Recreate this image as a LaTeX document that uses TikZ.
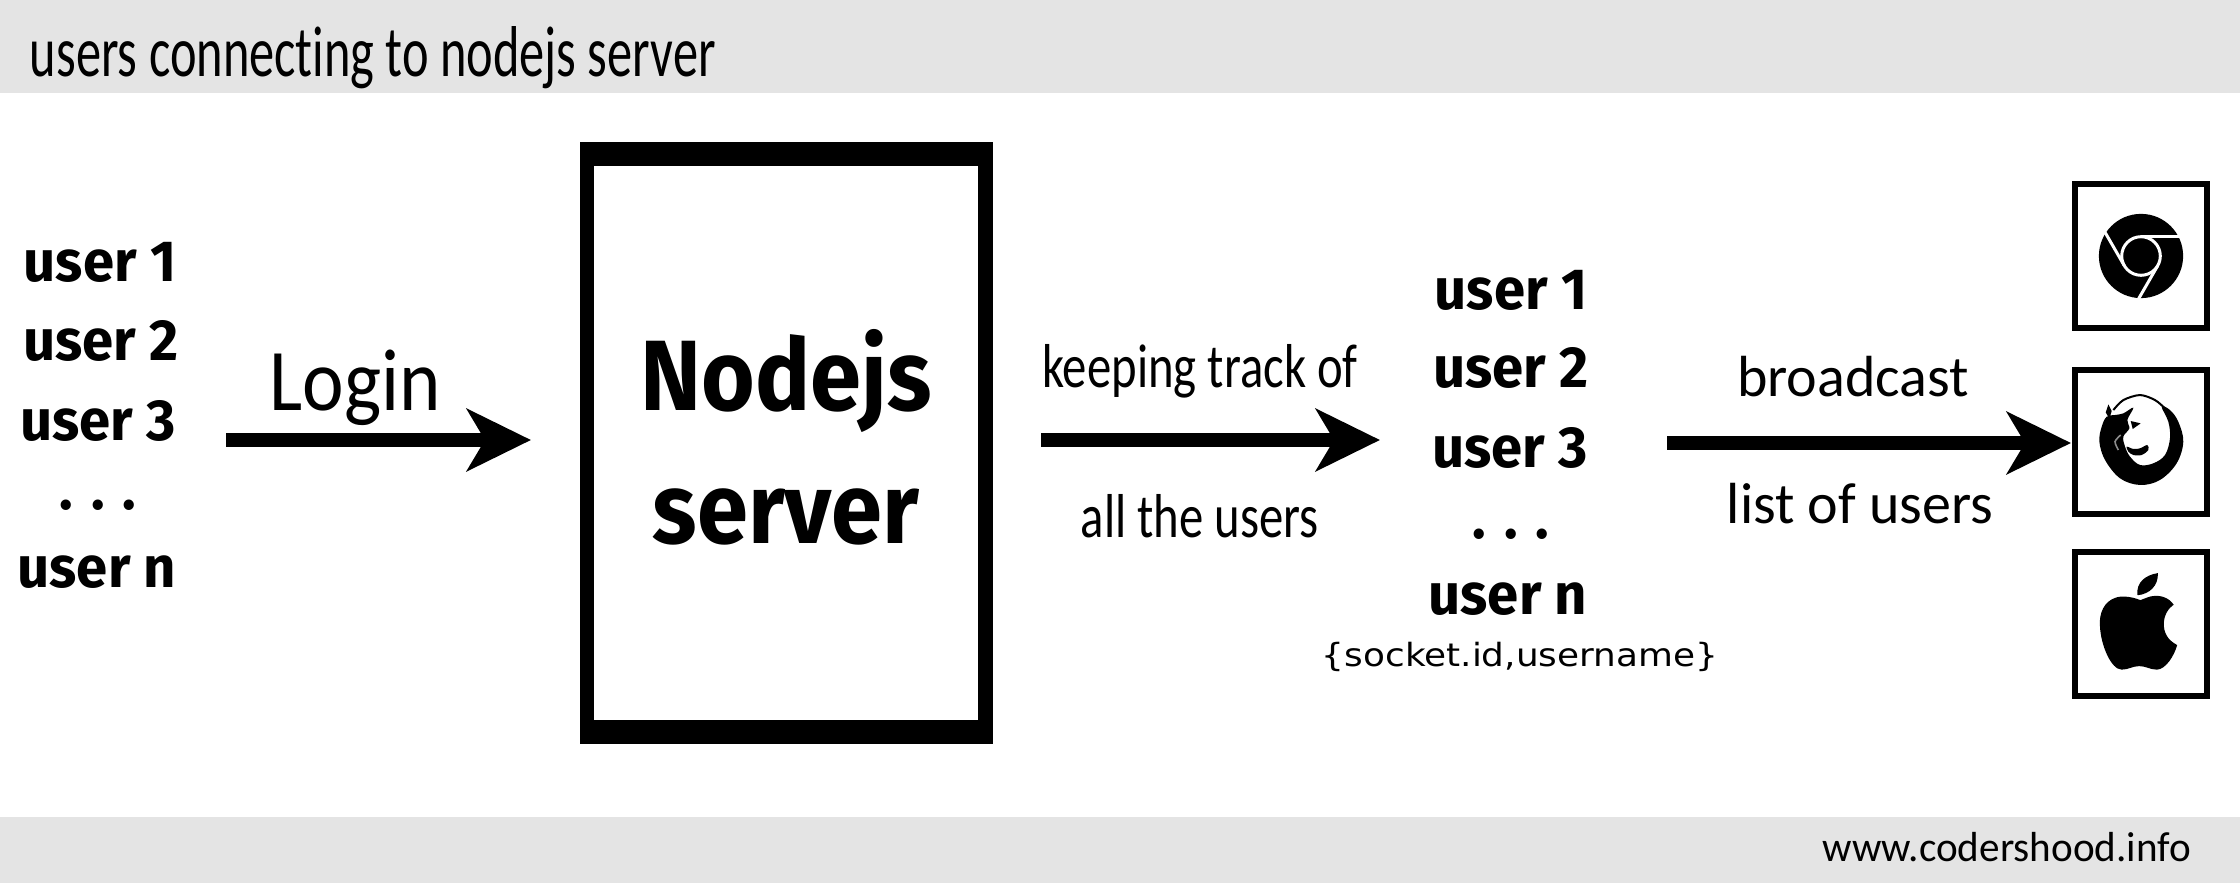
\documentclass[tikz,border=0pt]{standalone}
\usepackage{fontspec}
\setmainfont[Ligatures=NoCommon]{Carlito}
\newfontfamily\titleface[FakeStretch=0.70,Ligatures=NoCommon]{Carlito}
\newfontfamily\trackface[FakeStretch=0.786,Ligatures=NoCommon]{Carlito}
\newfontfamily\loginface[FakeStretch=0.895,Ligatures=NoCommon]{Carlito}
\newfontfamily\siteface[FakeStretch=0.98,Ligatures=NoCommon]{Carlito}
\newfontfamily\heavyfont[FakeStretch=0.92]{Fira Sans}
\newfontfamily\userface[FakeStretch=0.97]{Fira Sans}
\newfontfamily\wideface[FakeStretch=1.12]{DejaVu Sans}
\usetikzlibrary{arrows.meta}
\definecolor{bandgray}{HTML}{E4E4E4}

\begin{document}
\begin{tikzpicture}[x=0.5pt, y=-0.5pt,
    every node/.append style={inner sep=0pt, outer sep=0pt},
    bigarrow/.style={-{Stealth[length=32pt, width=31pt, inset=9pt]}, line width=7pt},
    lighttext/.style={anchor=base, font=\fontsize{29}{32}\selectfont},
    tracktext/.style={anchor=base, font=\trackface\fontsize{31}{34}\selectfont},
    usertext/.style={anchor=base, font=\userface\bfseries\fontsize{29}{32}\selectfont},
    servertext/.style={anchor=base, font=\heavyfont\bfseries\fontsize{50}{54}\selectfont},
    iconbox/.style={draw, line width=3pt, minimum width=66pt, minimum height=72pt}]
    \useasboundingbox (0,0) rectangle (2240,883);
    \fill[white] (0,0) rectangle (2240,883);
    \fill[bandgray] (0,0) rectangle (2240,93);
    \fill[bandgray] (0,817) rectangle (2240,883);
    % titles in the two bands
    \node (title) [anchor=base west, font=\titleface\fontsize{36}{40}\selectfont] at (30,77) {users connecting to nodejs server};
    \node (site) [anchor=base east, font=\siteface\fontsize{21}{24}\selectfont] at (2191,861) {www.codershood.info};
    % the users who log in
    \node (left1) [usertext] at (100,281) {user 1};
    \node (left2) [usertext] at (101,360) {user 2};
    \node (left3) [usertext] at (98,440) {user 3};
    \node (left4) [usertext] at (98,509) {. . .};
    \node (left5) [usertext] at (97,587) {user n};
    % server box
    \node (serverframe) [fill=black, minimum width=206.5pt, minimum height=300.5pt] at (786,443) {};
    \node (server) [fill=white, minimum width=192pt, minimum height=277pt] at (786,443) {};
    \node (nodejs) [servertext] at (786,410) {Nodejs};
    \node (serverword) [servertext] at (786,543) {server};
    % the list that is kept
    \node (right1) [usertext] at (1511,309) {user 1};
    \node (right2) [usertext] at (1511,387) {user 2};
    \node (right3) [usertext] at (1510,467) {user 3};
    \node (right4) [usertext] at (1511,538) {. . .};
    \node (right5) [usertext] at (1508,614) {user n};
    \node (socket) [anchor=base, font=\wideface\fontsize{16}{18}\selectfont] at (1520,666) {\{socket.id,username\}};
    % browsers
    \node (chrome) [iconbox] at (2141,256) {};
    \node (firefox) [iconbox] at (2141,442) {};
    \node (apple) [iconbox] at (2141,624) {};
    \begin{scope}[shift={(chrome.center)}, scale=0.351]
      \fill (0,0) circle (120);
      \draw[white, line width=1.5pt] (0,0) circle (55);
      \foreach \turn in {0,120,240}
        \draw[white, line width=1.5pt, rotate=\turn] (0,-55) -- (122,-55);
    \end{scope}
    \begin{scope}[shift={(firefox.center)}, scale=0.333]
      \fill plot[smooth cycle, tension=0.6] coordinates {(-118,-46) (-125,-1) (-108,54) (-63,109) (-3,129) (57,114) (107,64) (127,-1) (112,-61) (87,-96) (62,-106) (82,-61) (87,-11) (72,39) (37,64) (-3,69) (-33,44) (-48,14) (-53,-16) (-35,-41) (-41,-66) (-23,-103) (-53,-86) (-78,-81) (-103,-76)};
      \fill (-106,-89) -- (-98,-113) -- (-88,-93) -- (-95,-70) -- cycle;
      \draw[line width=1pt] plot[smooth] coordinates {(-83,-96) (-53,-126) (-3,-141) (42,-126) (72,-101)};
      \fill (-31,-63) -- (-1,-56) -- (-25,-39) -- cycle;
      \fill plot[smooth cycle] coordinates {(-43,14) (-23,21) (-3,19) (19,9) (22,24) (2,39) (-23,39) (-38,29)};
      \draw[black!45, line width=0.8pt] plot[smooth] coordinates {(-61,-21) (-78,-1) (-68,24)};
    \end{scope}
    \begin{scope}[shift={(apple.center)}, scale=0.351]
      \fill (-10,-82) .. controls (-15,-120) and (15,-140) .. (48,-145) .. controls (50,-110) and (25,-85) .. (-10,-82) -- cycle;
      \fill (-2,-68) .. controls (-30,-80) and (-60,-80) .. (-72,-75) .. controls (-105,-65) and (-120,-30) .. (-117,5)
        .. controls (-115,60) and (-85,130) .. (-55,130) .. controls (-35,130) and (-25,120) .. (-5,120)
        .. controls (15,120) and (25,130) .. (45,130) .. controls (70,130) and (95,90) .. (103,60)
        .. controls (75,45) and (65,25) .. (65,0) .. controls (65,-25) and (78,-45) .. (93,-55)
        .. controls (80,-75) and (55,-82) .. (38,-80) .. controls (25,-80) and (10,-72) .. (-2,-68) -- cycle;
    \end{scope}
    % arrows and their labels
    \coordinate (loginstart) at (226,440);
    \coordinate (loginend) at (531,440);
    \coordinate (trackstart) at (1041,440);
    \coordinate (trackend) at (1380,440);
    \coordinate (sendstart) at (1667,443);
    \draw[bigarrow] (loginstart) -- (loginend);
    \draw[bigarrow] (trackstart) -- (trackend);
    \draw[bigarrow, shorten >=2pt] (sendstart) -- (firefox.west |- sendstart);
    \node (login) [anchor=base, font=\loginface\fontsize{44}{48}\selectfont] at (355,410) {Login};
    \node (keeping) [tracktext] at (1200,387) {keeping track of};
    \node (allusers) [tracktext] at (1200,537) {all the users};
    \node (broadcast) [lighttext] at (1853,396) {broadcast};
    \node (listusers) [lighttext] at (1860,523) {list of users};
\end{tikzpicture}
\end{document}
